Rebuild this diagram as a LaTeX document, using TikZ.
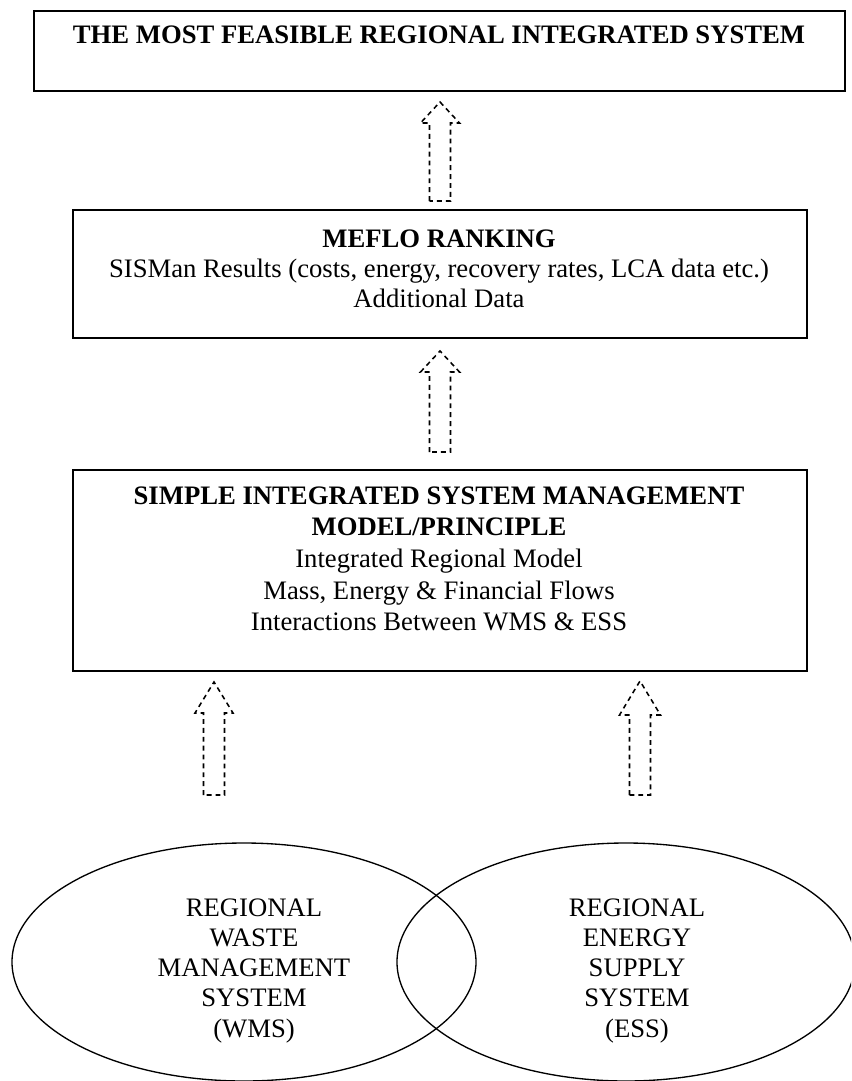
\documentclass[tikz,border=0pt]{standalone}
\usepackage{fontspec}
\setmainfont{Liberation Serif}
\usetikzlibrary{shapes.geometric}

\tikzset{
  box/.style={draw, line width=0.9pt, rectangle, inner sep=0pt, anchor=north west},
  line/.style={anchor=base, inner sep=0pt, font=\fontsize{12}{14}\selectfont},
  boldline/.style={line, font=\fontsize{12}{14}\selectfont\bfseries},
  region/.style={draw, ellipse, line width=0.6pt, inner sep=0pt},
  blockarrow/.style={draw, line width=0.7pt, dash pattern=on 2.2pt off 1.8pt, line join=miter}
}

% hollow up arrow: x, tip, head base, bottom, head half width
\newcommand{\hollowup}[5]{%
  \draw[blockarrow] (#1-10.5,#4) -- (#1-10.5,#3) -- (#1-#5,#3) -- (#1,#2)
    -- (#1+#5,#3) -- (#1+10.5,#3) -- (#1+10.5,#4) -- cycle;}

\begin{document}
\begin{tikzpicture}[x=0.45pt,y=-0.45pt]
  \useasboundingbox (0,0) rectangle (851,1081);
  \clip (0,0) rectangle (851,1081);

  % boxes
  \node[box, minimum width=364.95pt, minimum height=36pt] (best) at (33,10) {};
  \node[boldline] (besttitle) at (439,43) {THE MOST FEASIBLE REGIONAL INTEGRATED SYSTEM};

  \node[box, minimum width=330.3pt, minimum height=57.6pt] (meflo) at (72,209) {};
  \node[boldline] (meflotitle) at (439,247) {MEFLO RANKING};
  \node[line] (mefloa) at (439,277) {SISMan Results (costs, energy, recovery rates, LCA data etc.)};
  \node[line] (meflob) at (439,307) {Additional Data};

  \node[box, minimum width=330.3pt, minimum height=90.45pt] (sisman) at (72,469) {};
  \node[boldline] (sismana) at (439,504) {SIMPLE INTEGRATED SYSTEM MANAGEMENT};
  \node[boldline] (sismanb) at (439,535) {MODEL/PRINCIPLE};
  \node[line] (sismanc) at (439,567) {Integrated Regional Model};
  \node[line] (sismand) at (439,599) {Mass, Energy \& Financial Flows};
  \node[line] (sismane) at (439,630) {Interactions Between WMS \& ESS};

  % regional systems
  \node[region, minimum width=208.8pt, minimum height=107.1pt] (wms) at (244,962) {};
  \node[region, minimum width=206.1pt, minimum height=107.1pt] (ess) at (626,962) {};
  \foreach \t [count=\i from 0] in {REGIONAL, WASTE, MANAGEMENT, SYSTEM, (WMS)}
    \node[line] (wms\i) at (254,916+30.3*\i) {\t};
  \foreach \t [count=\i from 0] in {REGIONAL, ENERGY, SUPPLY, SYSTEM, (ESS)}
    \node[line] (ess\i) at (637,916+30.3*\i) {\t};

  % arrows
  \hollowup{440}{102}{123}{201}{19.5}
  \hollowup{440}{351}{372}{452}{19.5}
  \hollowup{214}{682}{713}{795}{19}
  \hollowup{640}{681}{715}{795}{20.5}
\end{tikzpicture}
\end{document}
